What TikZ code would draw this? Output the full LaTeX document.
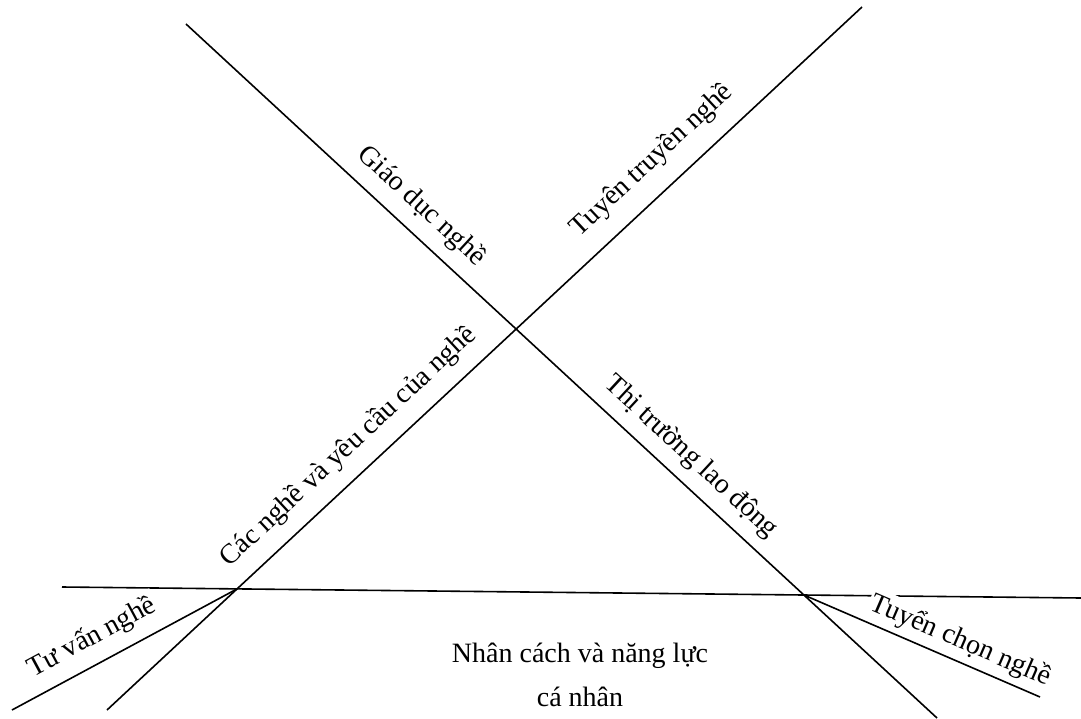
\documentclass[tikz,border=0pt]{standalone}
\usepackage{fontspec}
\setmainfont{Liberation Serif}
\usepackage{tikz}

\begin{document}
\begin{tikzpicture}[x=1pt,y=-1pt,every node/.style={font=\fontsize{28}{44}\selectfont}]
    \tikzstyle{ln}=[line width=1.6pt];
    \tikzstyle{lbl}=[sloped,fill=white,inner sep=3pt];
    \useasboundingbox (0,0) rectangle (1081,719);
    % --- end points ---
    \coordinate (a1) at (186,24);  \coordinate (a2) at (937,718);
    \coordinate (b1) at (107,710); \coordinate (b2) at (862,7);
    \coordinate (h1) at (62,587);  \coordinate (h2) at (1081,598);
    \coordinate (t1) at (12,710);  \coordinate (s2) at (1040,697);
    \coordinate (L) at (intersection of b1--b2 and h1--h2);
    \coordinate (R) at (intersection of a1--a2 and h1--h2);
    % --- the big cross ---
    \draw[ln] (h1) -- (h2);
    \draw[ln] (a1) -- node[lbl,above=9pt,pos=0.29] (giaoduc) {Giáo dục nghề}
                      node[lbl,above=8pt,pos=0.65] (thitruong) {Thị trường lao động} (a2);
    \draw[ln] (b1) -- node[lbl,above=11pt,pos=0.345] (cacnghe) {Các nghề và yêu cầu của nghề}
                      node[lbl,above=14pt,pos=0.75] (tuyentruyen) {Tuyên truyền nghề} (b2);
    % --- bottom branches ---
    \draw[ln] (t1) -- node[lbl,above=9pt,pos=0.41] (tuvan) {Tư vấn nghề} (L);
    \draw[ln] (R) -- node[lbl,above=3pt,pos=0.63] (tuyenchon) {Tuyển chọn nghề} (s2);
    \node[align=center] (nhancach) at (580,675) {Nhân cách và năng lực\\cá nhân};
\end{tikzpicture}
\end{document}
